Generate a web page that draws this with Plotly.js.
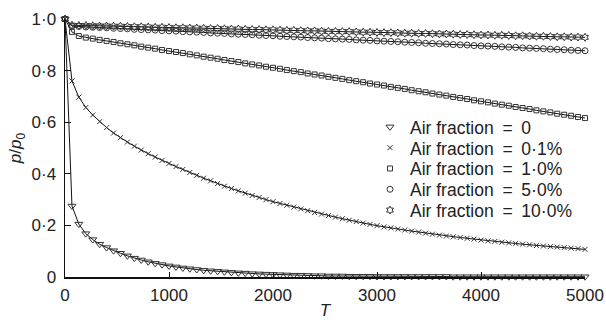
<!DOCTYPE html>
<html>
<head>
<meta charset="utf-8">
<script src="https://cdn.plot.ly/plotly-3.0.1.min.js"></script>
<style>
  html, body { margin: 0; padding: 0; background: #fff; }
  #chart { width: 606px; height: 320px; }
</style>
</head>
<body>
<div id="chart"></div>
<script>
// Normalised pressure p/p0 against T for several air fractions
const T = [0, 67, 133, 200, 267, 333, 400, 467, 533, 600, 667, 733, 800, 867, 933,
  1000, 1067, 1133, 1200, 1267, 1333, 1400, 1467, 1533, 1600, 1667, 1733, 1800, 1867, 1933,
  2000, 2067, 2133, 2200, 2267, 2333, 2400, 2467, 2533, 2600, 2667, 2733, 2800, 2867, 2933,
  3000, 3067, 3133, 3200, 3267, 3333, 3400, 3467, 3533, 3600, 3667, 3733, 3800, 3867, 3933,
  4000, 4067, 4133, 4200, 4267, 4333, 4400, 4467, 4533, 4600, 4667, 4733, 4800, 4867, 4933,
  5000];

const air0 = [1.000, 0.275, 0.205, 0.168, 0.145, 0.127, 0.114, 0.102, 0.092, 0.082, 0.073, 0.066, 0.059, 0.053, 0.048,
  0.043, 0.039, 0.035, 0.032, 0.029, 0.026, 0.024, 0.022, 0.020, 0.018, 0.016, 0.015, 0.013, 0.012, 0.011,
  0.010, 0.009, 0.008, 0.007, 0.007, 0.006, 0.005, 0.005, 0.004, 0.004, 0.004, 0.003, 0.003, 0.003, 0.003,
  0.002, 0.002, 0.002, 0.002, 0.002, 0.002, 0.002, 0.002, 0.002, 0.002, 0.002, 0.001, 0.001, 0.001, 0.001,
  0.001, 0.001, 0.001, 0.001, 0.001, 0.001, 0.001, 0.001, 0.001, 0.001, 0.001, 0.001, 0.001, 0.001, 0.001,
  0.001];

const air01 = [1.000, 0.760, 0.697, 0.657, 0.628, 0.602, 0.579, 0.558, 0.540, 0.523, 0.507, 0.492, 0.478, 0.465, 0.452,
  0.440, 0.428, 0.417, 0.405, 0.394, 0.383, 0.373, 0.362, 0.352, 0.343, 0.334, 0.325, 0.316, 0.308, 0.300,
  0.292, 0.285, 0.278, 0.271, 0.264, 0.257, 0.250, 0.244, 0.238, 0.232, 0.226, 0.220, 0.215, 0.209, 0.204,
  0.199, 0.194, 0.190, 0.186, 0.182, 0.178, 0.174, 0.170, 0.166, 0.162, 0.159, 0.156, 0.153, 0.150, 0.147,
  0.143, 0.140, 0.138, 0.135, 0.132, 0.130, 0.127, 0.125, 0.122, 0.120, 0.118, 0.116, 0.114, 0.112, 0.110,
  0.107];

const air1 = [1.000, 0.950, 0.934, 0.928, 0.924, 0.919, 0.915, 0.911, 0.906, 0.902, 0.898, 0.893, 0.889, 0.885, 0.880,
  0.876, 0.872, 0.868, 0.863, 0.859, 0.854, 0.850, 0.846, 0.841, 0.837, 0.833, 0.828, 0.824, 0.820, 0.815,
  0.811, 0.807, 0.802, 0.798, 0.794, 0.789, 0.785, 0.781, 0.776, 0.772, 0.768, 0.763, 0.759, 0.755, 0.750,
  0.746, 0.742, 0.737, 0.733, 0.729, 0.724, 0.720, 0.716, 0.711, 0.707, 0.703, 0.698, 0.694, 0.690, 0.685,
  0.681, 0.677, 0.672, 0.668, 0.664, 0.659, 0.655, 0.651, 0.646, 0.642, 0.638, 0.633, 0.629, 0.625, 0.620,
  0.616];

const air5 = [1.000, 0.972, 0.971, 0.969, 0.968, 0.967, 0.966, 0.964, 0.963, 0.962, 0.960, 0.959, 0.958, 0.957, 0.955,
  0.954, 0.953, 0.951, 0.950, 0.949, 0.948, 0.946, 0.945, 0.944, 0.942, 0.941, 0.940, 0.939, 0.937, 0.936,
  0.935, 0.933, 0.932, 0.931, 0.930, 0.928, 0.927, 0.926, 0.924, 0.923, 0.922, 0.921, 0.919, 0.918, 0.917,
  0.915, 0.914, 0.913, 0.912, 0.910, 0.909, 0.908, 0.906, 0.905, 0.904, 0.903, 0.901, 0.900, 0.899, 0.897,
  0.896, 0.895, 0.894, 0.892, 0.891, 0.890, 0.888, 0.887, 0.886, 0.885, 0.883, 0.882, 0.881, 0.879, 0.878,
  0.877];

const air10 = [1.000, 0.976, 0.975, 0.975, 0.974, 0.973, 0.973, 0.972, 0.972, 0.971, 0.970, 0.970, 0.969, 0.968, 0.968,
  0.967, 0.966, 0.966, 0.965, 0.965, 0.964, 0.963, 0.963, 0.962, 0.961, 0.961, 0.960, 0.959, 0.959, 0.958,
  0.958, 0.957, 0.956, 0.956, 0.955, 0.954, 0.954, 0.953, 0.952, 0.952, 0.951, 0.951, 0.950, 0.949, 0.949,
  0.948, 0.947, 0.947, 0.946, 0.945, 0.945, 0.944, 0.944, 0.943, 0.942, 0.942, 0.941, 0.940, 0.940, 0.939,
  0.938, 0.938, 0.937, 0.937, 0.936, 0.935, 0.935, 0.934, 0.933, 0.933, 0.932, 0.931, 0.931, 0.930, 0.930,
  0.929];

const seriesNames = ['Air fraction\u2002=\u20020', 'Air fraction\u2002=\u20020\u00b71%', 'Air fraction\u2002=\u20021\u00b70%',
  'Air fraction\u2002=\u20025\u00b70%', 'Air fraction\u2002=\u200210\u00b70%'];
const seriesValues = [air0, air01, air1, air5, air10];
const symbols = ['triangle-down-open', 'x-thin-open', 'square-open', 'circle-open', 'hexagram-open'];
const sizes = [7, 5, 5, 6, 6];

const yTickVals = [0, 0.2, 0.4, 0.6, 0.8, 1.0];
const yTickText = ['0', '0\u00b72', '0\u00b74', '0\u00b76', '0\u00b78', '1\u00b70'];
const xTickVals = [0, 1000, 2000, 3000, 4000, 5000];
const xTickText = ['0', '1000', '2000', '3000', '4000', '5000'];

const FONT = 'Liberation Sans, Arial, sans-serif';
const legendIds = ['legend', 'legend2', 'legend3', 'legend4', 'legend5'];

const traces = [];
// connecting lines
seriesValues.forEach(function (vals) {
  traces.push({
    x: T, y: vals, type: 'scatter', mode: 'lines', showlegend: false,
    line: { color: '#111', width: 1 }, cliponaxis: false, hoverinfo: 'skip'
  });
});
// markers, each with its own legend entry
seriesValues.forEach(function (vals, i) {
  traces.push({
    x: T, y: vals, type: 'scatter', mode: 'markers', name: seriesNames[i],
    legend: legendIds[i], cliponaxis: false,
    marker: { symbol: symbols[i], size: sizes[i], color: '#333', line: { width: 1, color: '#333' } }
  });
});

const layout = {
  width: 606, height: 320,
  margin: { l: 65, r: 21, t: 19, b: 43, pad: 0 },
  paper_bgcolor: '#fff', plot_bgcolor: '#fff',
  font: { family: FONT, size: 17, color: '#222' },
  showlegend: true,
  xaxis: {
    range: [0, 5000], tickvals: xTickVals, ticktext: xTickText,
    ticks: 'inside', ticklen: 5, tickwidth: 1, tickcolor: '#111',
    showline: true, linecolor: '#111', linewidth: 1.5,
    showgrid: false, zeroline: false, ticklabelstandoff: 2,
    title: { text: '<i>T</i>', font: { family: FONT, size: 17, color: '#222' }, standoff: 2 }
  },
  yaxis: {
    range: [0, 1], tickvals: yTickVals, ticktext: yTickText,
    ticks: 'inside', ticklen: 6, tickwidth: 1, tickcolor: '#111',
    showline: true, linecolor: '#111', linewidth: 1.5,
    showgrid: false, zeroline: false, ticklabelstandoff: 4,
    title: { text: '<i>p</i>/<i>p</i><sub>0</sub>', font: { family: FONT, size: 17, color: '#222' }, standoff: 5 }
  }
};

// one legend per series so the rows sit at their own heights
const rowY = [127, 147.8, 168.6, 189.4, 210.2];
legendIds.forEach(function (id, i) {
  layout[id] = {
    x: (370 - 65) / 520, xanchor: 'left',
    y: (277 - rowY[i]) / 258, yanchor: 'middle',
    bgcolor: 'rgba(0,0,0,0)', borderwidth: 0,
    font: { family: FONT, size: 17.5, color: '#222' }
  };
});

Plotly.newPlot('chart', traces, layout, { staticPlot: true, displayModeBar: false });
</script>
</body>
</html>
